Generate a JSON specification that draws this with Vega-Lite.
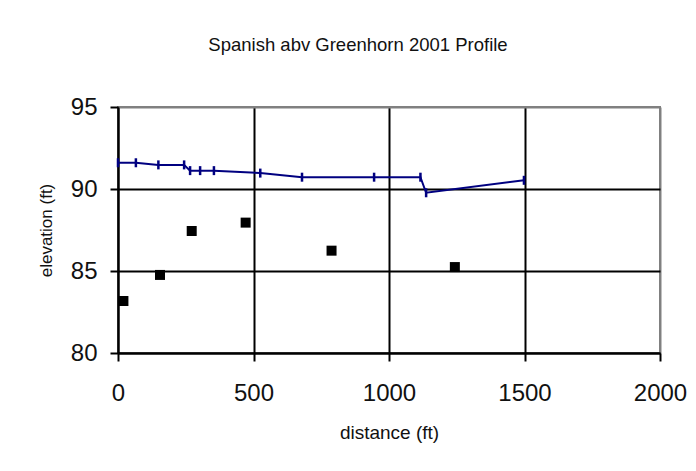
{
  "$schema": "https://vega.github.io/schema/vega-lite/v6.json",
  "width": 542,
  "height": 246,
  "autosize": {"type": "none"},
  "padding": {"left": 118, "top": 107, "right": 36, "bottom": 118},
  "background": "white",
  "config": {
    "font": "Liberation Sans",
    "view": {"stroke": "#808080", "strokeWidth": 2}
  },
  "title": {
    "text": "Spanish abv Greenhorn 2001 Profile",
    "font": "Liberation Sans",
    "fontSize": 18.5,
    "fontWeight": "normal",
    "color": "#111",
    "anchor": "middle",
    "frame": "group",
    "baseline": "alphabetic",
    "offset": 26,
    "dx": -31
  },
  "datasets": {
    "profile": [
      {"distance": 0, "elevation": 91.6},
      {"distance": 66, "elevation": 91.6},
      {"distance": 149, "elevation": 91.47},
      {"distance": 244, "elevation": 91.47},
      {"distance": 266, "elevation": 91.12},
      {"distance": 303, "elevation": 91.12},
      {"distance": 354, "elevation": 91.12},
      {"distance": 525, "elevation": 90.97},
      {"distance": 679, "elevation": 90.72},
      {"distance": 945, "elevation": 90.72},
      {"distance": 1116, "elevation": 90.72},
      {"distance": 1137, "elevation": 89.77},
      {"distance": 1498, "elevation": 90.53}
    ],
    "pools": [
      {"distance": 20, "elevation": 83.17},
      {"distance": 155, "elevation": 84.76},
      {"distance": 272, "elevation": 87.44},
      {"distance": 471, "elevation": 87.95},
      {"distance": 788, "elevation": 86.24},
      {"distance": 1243, "elevation": 85.24}
    ]
  },
  "encoding": {
    "x": {
      "field": "distance",
      "type": "quantitative",
      "scale": {"domain": [0, 2000], "nice": false},
      "axis": {
        "title": "distance (ft)",
        "values": [0, 500, 1000, 1500, 2000],
        "format": "d",
        "titleFont": "Liberation Sans",
        "titleFontSize": 19,
        "titleFontWeight": "normal",
        "titleColor": "#111",
        "titlePadding": 18,
        "labelFont": "Liberation Sans",
        "labelFontSize": 24,
        "labelColor": "#111",
        "labelPadding": 20,
        "labelFlush": false,
        "labelOverlap": false,
        "tickSize": 8,
        "tickColor": "black",
        "tickWidth": 2,
        "domainColor": "black",
        "domainWidth": 2,
        "grid": true,
        "gridColor": {"condition": {"test": "datum.value == 2000", "value": "#808080"}, "value": "black"},
        "gridWidth": 2,
        "gridOpacity": 1
      }
    },
    "y": {
      "field": "elevation",
      "type": "quantitative",
      "scale": {"domain": [80, 95], "nice": false, "zero": false},
      "axis": {
        "title": "elevation (ft)",
        "values": [80, 85, 90, 95],
        "titleFont": "Liberation Sans",
        "titleFontSize": 17,
        "titleFontWeight": "normal",
        "titleColor": "#111",
        "titlePadding": 15,
        "labelFont": "Liberation Sans",
        "labelFontSize": 24,
        "labelColor": "#111",
        "labelPadding": 13,
        "labelFlush": false,
        "labelOverlap": false,
        "tickSize": 8,
        "tickColor": "black",
        "tickWidth": 2,
        "domainColor": "black",
        "domainWidth": 2,
        "grid": true,
        "gridColor": {"condition": {"test": "datum.value == 95", "value": "#808080"}, "value": "black"},
        "gridWidth": 2,
        "gridOpacity": 1
      }
    }
  },
  "layer": [
    {
      "data": {"name": "profile"},
      "mark": {"type": "line", "color": "#000080", "strokeWidth": 2}
    },
    {
      "data": {"name": "profile"},
      "mark": {"type": "point", "shape": "M0,-1L0,1", "size": 81, "stroke": "#000080", "strokeWidth": 2.5, "filled": false, "opacity": 1}
    },
    {
      "data": {"name": "pools"},
      "mark": {"type": "square", "size": 100, "color": "black", "opacity": 1, "filled": true}
    }
  ]
}
